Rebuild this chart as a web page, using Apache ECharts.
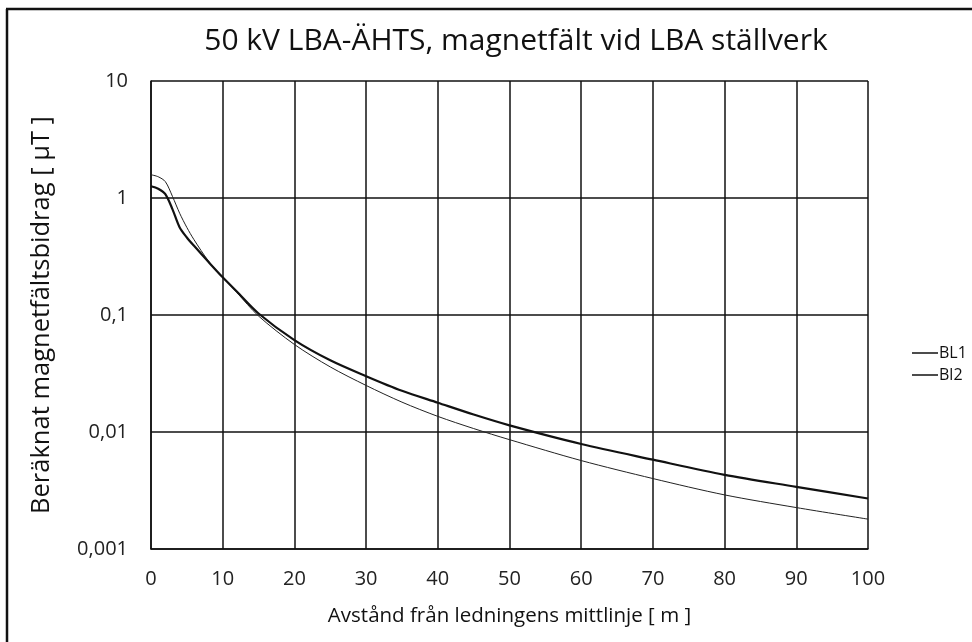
<!DOCTYPE html>
<html>
<head>
<meta charset="utf-8">
<script src="https://cdn.jsdelivr.net/npm/echarts@6/dist/echarts.min.js"></script>
<style>
  html, body { margin: 0; padding: 0; background: #fff; }
  #chart { width: 972px; height: 642px; }
</style>
</head>
<body>
<div id="chart"></div>
<script>
// avstånd [m]
var distance = [0, 1, 2, 3, 4, 5, 6, 8, 10, 12, 15, 20, 25, 30, 35, 40, 45, 50, 60, 70, 80, 90, 100];
// beräknat magnetfält [µT]
var bl1 = [1.58, 1.52, 1.38, 1.03, 0.74, 0.56, 0.44, 0.29, 0.21, 0.155, 0.098, 0.056, 0.036, 0.025, 0.018,
           0.0136, 0.0107, 0.0086, 0.0057, 0.0040, 0.0029, 0.00226, 0.0018];
var bl2 = [1.26, 1.2, 1.08, 0.8, 0.56, 0.46, 0.39, 0.285, 0.21, 0.158, 0.103, 0.061, 0.041, 0.030, 0.0225,
           0.0178, 0.0141, 0.0114, 0.0079, 0.0058, 0.0043, 0.0034, 0.0027];
var seriesNames = ['BL1', 'Bl2'];

function pairs(ys) {
    var out = [];
    for (var i = 0; i < distance.length; i++) {
        out.push([distance[i], ys[i]]);
    }
    return out;
}

var chart = echarts.init(document.getElementById('chart'));
var font = 'Open Sans';

var option = {
    animation: false,
    backgroundColor: '#fff',
    title: {
        text: '50 kV LBA-ÄHTS, magnetfält vid LBA ställverk',
        left: 511,
        textAlign: 'center',
        top: 21,
        textStyle: { fontFamily: font, fontSize: 30, fontWeight: 'normal', color: '#111' }
    },
    legend: {
        orient: 'vertical',
        left: 907,
        top: 340,
        itemWidth: 26,
        itemHeight: 1.5,
        itemGap: 6,
        icon: 'rect',
        data: seriesNames,
        textStyle: { fontFamily: font, fontSize: 16, color: '#111', padding: [0, 0, 0, -4] }
    },
    grid: { left: 151, right: 104, top: 81, bottom: 93 },
    xAxis: {
        type: 'value',
        min: 0,
        max: 100,
        interval: 10,
        name: 'Avstånd från ledningens mittlinje [ m ]',
        nameLocation: 'middle',
        nameGap: 57,
        nameTextStyle: { fontFamily: font, fontSize: 20.5, color: '#111' },
        axisLine: { lineStyle: { color: '#111', width: 1.5 } },
        axisTick: { show: false },
        axisLabel: { fontFamily: font, fontSize: 20, color: '#222', margin: 20 },
        splitLine: { lineStyle: { color: '#111', width: 1.5 } }
    },
    yAxis: {
        type: 'log',
        logBase: 10,
        min: 0.001,
        max: 10,
        name: 'Beräknat magnetfältsbidrag [ µT ]',
        nameLocation: 'middle',
        nameGap: 96,
        nameTextStyle: { fontFamily: font, fontSize: 25.5, color: '#111' },
        axisLine: { show: true, lineStyle: { color: '#111', width: 1.5 } },
        axisTick: { show: false },
        axisLabel: {
            fontFamily: font, fontSize: 20, color: '#222', margin: 23,
            formatter: function (v) {
                return String(Number(v.toPrecision(1))).replace('.', ',');
            }
        },
        splitLine: { lineStyle: { color: '#111', width: 1.5 } }
    },
    series: [
        {
            name: seriesNames[0],
            type: 'line',
            showSymbol: false,
            smooth: 0.3,
            color: '#111',
            lineStyle: { width: 1, color: '#222' },
            data: pairs(bl1)
        },
        {
            name: seriesNames[1],
            type: 'line',
            showSymbol: false,
            smooth: 0.3,
            color: '#111',
            lineStyle: { width: 2.2, color: '#111' },
            data: pairs(bl2)
        }
    ],
    graphic: [
        { type: 'line', shape: { x1: 7, y1: 9, x2: 7, y2: 642 }, style: { stroke: '#111', lineWidth: 2.5 } },
        { type: 'line', shape: { x1: 6, y1: 9, x2: 972, y2: 9 }, style: { stroke: '#111', lineWidth: 2.5 } }
    ]
};

chart.setOption(option);
</script>
</body>
</html>
